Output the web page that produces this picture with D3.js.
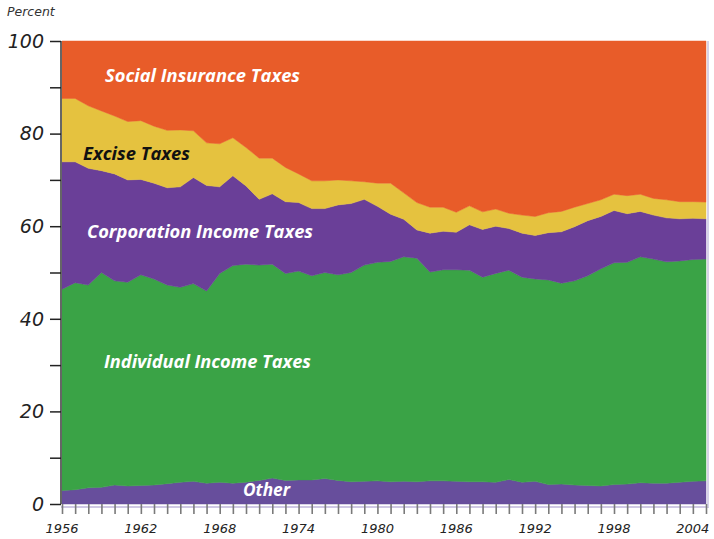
<!DOCTYPE html>
<html><head><meta charset="utf-8">
<script src="https://cdn.jsdelivr.net/npm/d3@7/dist/d3.min.js"></script>
<style>
html,body{margin:0;padding:0;background:#fff;}
svg{display:block;}
</style></head>
<body><svg id="c" width="714" height="539"></svg>
<script>
const years = d3.range(1956, 2006);
const other = [2.9,3.1,3.5,3.6,4.1,3.9,4.0,4.1,4.4,4.7,4.9,4.5,4.7,4.5,4.7,5.1,5.6,5.1,5.2,5.2,5.5,5.1,4.8,4.9,5.0,4.8,4.9,4.8,5.0,5.0,4.9,4.8,4.8,4.7,5.3,4.7,4.9,4.2,4.3,4.1,4.0,3.9,4.2,4.3,4.6,4.5,4.5,4.7,4.9,5.0];
const individual = [43.5,44.7,43.8,46.4,44.1,44.0,45.5,44.5,42.9,42.1,42.7,41.5,45.1,47.0,47.1,46.5,46.2,44.7,45.1,44.1,44.5,44.4,45.2,46.7,47.2,47.6,48.5,48.3,45.1,45.6,45.7,45.7,44.2,45.1,45.2,44.3,43.7,44.2,43.4,44.1,45.3,46.9,47.9,47.9,48.8,48.4,47.8,47.8,47.9,47.9];
const corporation = [27.5,26.1,25.2,22.0,23.1,22.1,20.6,20.7,21.0,21.7,22.9,22.8,18.7,19.4,16.9,14.2,15.2,15.5,14.8,14.5,13.8,15.1,14.9,14.2,12.1,10.2,8.1,6.1,8.4,8.3,8.1,9.8,10.3,10.2,9.0,9.5,9.4,10.2,11.1,11.7,11.9,11.3,11.3,10.5,9.8,9.5,9.5,9.1,8.9,8.7];
const excise = [13.7,13.7,13.5,12.9,12.5,12.6,12.7,12.3,12.4,12.3,10.1,9.2,9.3,8.2,8.3,8.9,7.7,7.4,6.2,6.0,6.0,5.4,4.9,3.8,5.0,6.7,5.7,5.9,5.6,5.2,4.3,4.1,3.8,3.7,3.3,3.9,4.1,4.3,4.4,4.2,3.7,3.6,3.5,3.9,3.7,3.6,3.9,3.7,3.6,3.6];
const social = [12.4,12.4,14.0,15.1,16.2,17.4,17.2,18.4,19.3,19.2,19.4,22.0,22.2,20.9,23.0,25.3,25.3,27.3,28.7,30.2,30.2,30.0,30.2,30.4,30.7,30.7,32.8,34.9,35.9,35.9,37.0,35.6,36.9,36.3,37.2,37.6,37.9,37.1,36.8,35.9,35.1,34.3,33.1,33.4,33.1,34.0,34.3,34.7,34.7,34.8];
const seriesKeys = ["Other","Individual Income Taxes","Corporation Income Taxes","Excise Taxes","Social Insurance Taxes"];
const seriesColors = ["#674e9c","#3aa346","#6a3f98","#e5c23f","#e85c29"];
const yTicks = [0,10,20,30,40,50,60,70,80,90,100];
const yLabels = [0,20,40,60,80,100];
const xLabels = [1956,1962,1968,1974,1980,1986,1992,1998,2004];

const table = years.map((y,i)=>({year:y,
  "Other":other[i],"Individual Income Taxes":individual[i],
  "Corporation Income Taxes":corporation[i],"Excise Taxes":excise[i],
  "Social Insurance Taxes":social[i]}));

const svg = d3.select("#c");
const x = d3.scaleLinear().domain([1956,2005]).range([62,706]);
const y = d3.scaleLinear().domain([0,100]).range([504,41]);
const color = d3.scaleOrdinal().domain(seriesKeys).range(seriesColors);

const stacked = d3.stack().keys(seriesKeys)(table);
const area = d3.area().x(d=>x(d.data.year)).y0(d=>y(d[0])).y1(d=>y(d[1])).curve(d3.curveLinear);

svg.append("g").selectAll("path").data(stacked).join("path")
  .attr("d", area).attr("fill", d=>color(d.key)).attr("stroke", d=>color(d.key)).attr("stroke-width",0.5);

// frame lines (lavender) bottom and right
svg.append("line").attr("x1",61).attr("x2",709).attr("y1",507).attr("y2",507).attr("stroke","#cfc8e4").attr("stroke-width",2);
svg.append("line").attr("x1",708).attr("x2",708).attr("y1",41).attr("y2",507).attr("stroke","#d6d2e8").attr("stroke-width",2);

// x axis ticks
const xAxis = d3.axisBottom(x).tickValues(years).tickSize(10).tickFormat("");
const gx = svg.append("g").attr("transform","translate(0,504)").call(xAxis);
gx.select(".domain").remove();
gx.selectAll(".tick line").attr("stroke","#7a7a7a").attr("stroke-width",1.6);
svg.append("g").selectAll("text").data(xLabels).join("text")
  .attr("x", d=>x(d)).attr("y",533).attr("text-anchor","middle")
  .attr("font-family","DejaVu Sans").attr("font-style","italic").attr("font-size",13).attr("fill","#222")
  .text(d=>d);

// y axis
const yAxis = d3.axisLeft(y).tickValues(yTicks).tickSize(11).tickFormat("");
const gy = svg.append("g").attr("transform","translate(61,0)").call(yAxis);
gy.select(".domain").attr("stroke","#666").attr("stroke-width",2).attr("d","M0,41V504");
gy.selectAll(".tick line").attr("stroke","#222").attr("stroke-width",1.5);
svg.append("g").selectAll("text").data(yLabels).join("text")
  .attr("x",44).attr("y", d=>y(d)).attr("dy","0.36em").attr("text-anchor","end")
  .attr("font-family","DejaVu Sans").attr("font-style","italic").attr("font-size",19).attr("fill","#222")
  .text(d=>d);

svg.append("text").attr("x",7).attr("y",16).attr("font-family","DejaVu Sans").attr("font-style","italic")
  .attr("font-size",12.5).attr("fill","#333").text("Percent");

// series labels
const labels = [
  {t:"Social Insurance Taxes", x:105, y:81.5, w:195, c:"#fff"},
  {t:"Excise Taxes", x:83, y:160, w:107, c:"#111"},
  {t:"Corporation Income Taxes", x:87, y:238, w:226, c:"#fff"},
  {t:"Individual Income Taxes", x:104, y:368, w:207, c:"#fff"},
  {t:"Other", x:243, y:496, w:47, c:"#fff"}
];
svg.append("g").selectAll("text").data(labels).join("text")
  .attr("x",d=>d.x).attr("y",d=>d.y).attr("fill",d=>d.c)
  .attr("font-family","Open Sans").attr("font-weight","bold").attr("font-style","italic")
  .attr("font-size",18.5).attr("textLength",d=>d.w).attr("lengthAdjust","spacingAndGlyphs")
  .text(d=>d.t);
</script></body></html>
